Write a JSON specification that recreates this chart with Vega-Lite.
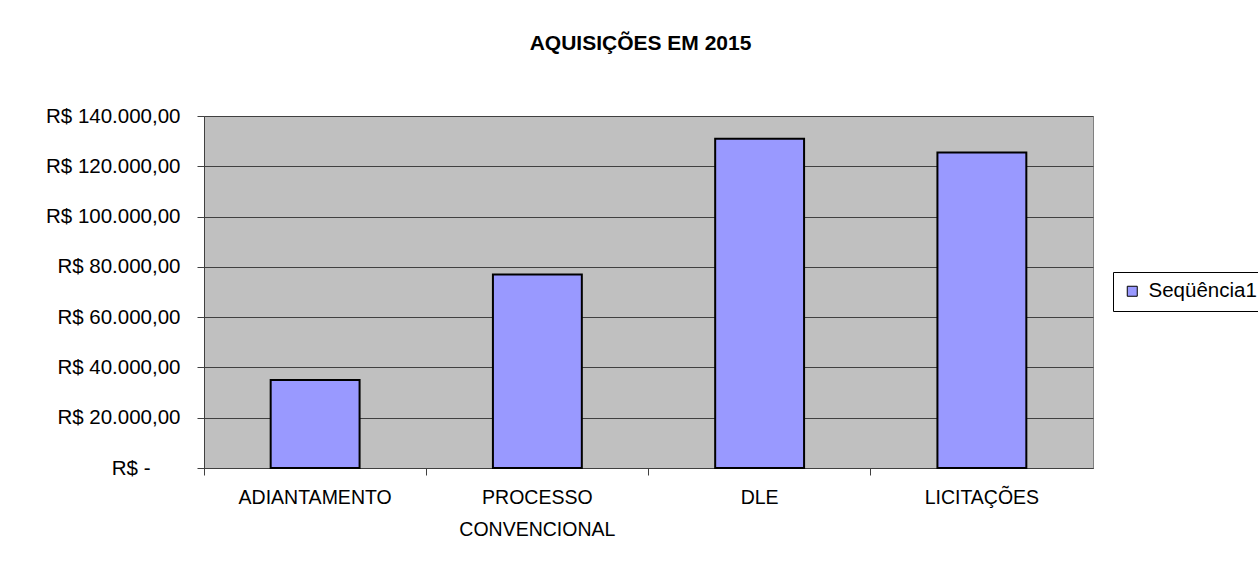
{
  "$schema": "https://vega.github.io/schema/vega-lite/v6.json",
  "width": 889,
  "height": 352,
  "autosize": {"type": "none"},
  "padding": {"left": 204, "top": 116, "right": 165, "bottom": 99},
  "background": "white",
  "config": {
    "font": "Liberation Sans",
    "view": {"fill": "#C0C0C0", "stroke": "#808080", "strokeWidth": 1}
  },
  "title": {
    "text": "AQUISIÇÕES EM 2015",
    "font": "Liberation Sans",
    "fontSize": 21,
    "fontWeight": "bold",
    "color": "black",
    "offset": 52,
    "dx": -8
  },
  "data": {
    "values": [
      {"categoria": "ADIANTAMENTO", "valor": 35000, "serie": "Seqüência1"},
      {"categoria": "PROCESSO CONVENCIONAL", "valor": 77000, "serie": "Seqüência1"},
      {"categoria": "DLE", "valor": 131000, "serie": "Seqüência1"},
      {"categoria": "LICITAÇÕES", "valor": 125500, "serie": "Seqüência1"}
    ]
  },
  "mark": {"type": "bar", "stroke": "black", "strokeWidth": 2, "width": {"band": 0.4}},
  "encoding": {
    "x": {
      "field": "categoria",
      "type": "nominal",
      "sort": null,
      "scale": {"paddingInner": 0, "paddingOuter": 0},
      "axis": {
        "title": null,
        "grid": false,
        "bandPosition": 0,
        "labelAngle": 0,
        "labelExpr": "split(datum.label, ' ')",
        "labelFontSize": 19.5,
        "labelLineHeight": 32,
        "labelColor": "black",
        "labelPadding": 13,
        "tickSize": 7,
        "tickColor": "#404040",
        "domainColor": "#404040"
      }
    },
    "y": {
      "field": "valor",
      "type": "quantitative",
      "scale": {"domain": [0, 140000]},
      "axis": {
        "title": null,
        "values": [0, 20000, 40000, 60000, 80000, 100000, 120000, 140000],
        "labelExpr": "datum.value == 0 ? 'R$ -\u2800\u2800' : 'R$ ' + replace(replace(replace(format(datum.value, ',.2f'), ',', '#'), '.', ','), '#', '.')",
        "labelFontSize": 20.5,
        "labelColor": "black",
        "labelPadding": 17,
        "tickSize": 7,
        "tickColor": "#404040",
        "domainColor": "#404040",
        "grid": true,
        "gridColor": "#404040",
        "gridOpacity": 1
      }
    },
    "color": {
      "field": "serie",
      "type": "nominal",
      "scale": {"range": ["#9999FF"]},
      "legend": {
        "title": null,
        "orient": "none",
        "legendX": 909,
        "legendY": 156,
        "strokeColor": "black",
        "fillColor": "white",
        "padding": 9,
        "symbolType": "square",
        "symbolSize": 100,
        "symbolStrokeColor": "black",
        "symbolStrokeWidth": 1,
        "labelFontSize": 20.5,
        "labelColor": "black",
        "labelOffset": 6
      }
    }
  }
}
